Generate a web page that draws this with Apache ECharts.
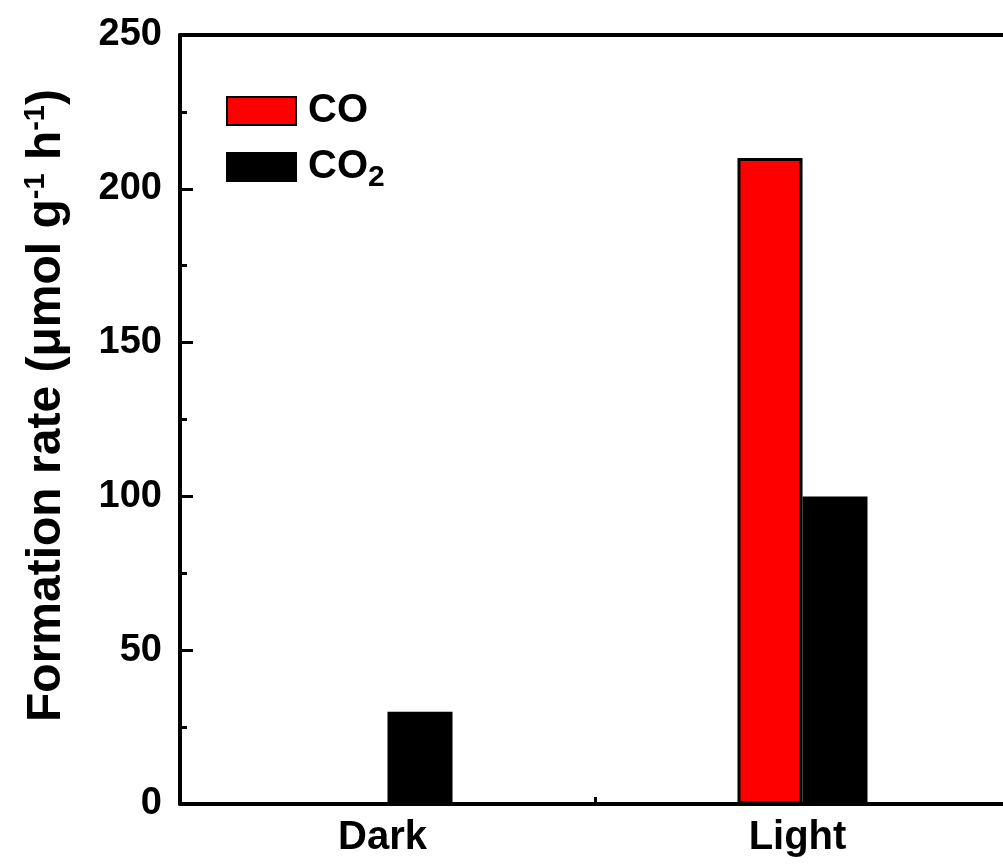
<!DOCTYPE html>
<html>
<head>
<meta charset="utf-8">
<script src="https://cdn.jsdelivr.net/npm/echarts@6/dist/echarts.min.js"></script>
<style>
  html, body { margin: 0; padding: 0; background: #fff; }
  #chart { width: 1003px; height: 864px; }
</style>
</head>
<body>
<div id="chart"></div>
<script>
const categories = ['Dark', 'Light']
const seriesNames = ['CO', 'CO2']
const coRate = [0, 210]
const co2Rate = [30, 100]
const yMin = 0
const yMax = 250
const yStep = 50

const font = 'Arial, "Liberation Sans", sans-serif'

const chart = echarts.init(document.getElementById('chart'))

const option = {
  backgroundColor: '#fff',
  animation: false,
  grid: [
    {
      left: 180,
      width: 830,
      top: 35,
      bottom: 60,
      outerBoundsMode: 'none',
      show: false,
      containLabel: false
    },
    {
      // helper grid, shifted by half a step, only carries the long inward ticks
      left: 180,
      width: 830,
      top: -42,
      height: 923,
      outerBoundsMode: 'none',
      show: false,
      containLabel: false
    }
  ],
  legend: {
    orient: 'vertical',
    left: 226,
    top: 91,
    padding: 0,
    itemWidth: 69,
    itemHeight: 28,
    itemGap: 16,
    icon: 'rect',
    data: seriesNames,
    formatter: name => name === 'CO2' ? '{b|CO}{s|2}' : '{b|CO}',
    textStyle: {
      color: '#000',
      padding: [0, 0, 0, 7],
      rich: {
        b: { fontSize: 40, fontWeight: 'bold', fontFamily: font, color: '#000' },
        s: { fontSize: 30, fontWeight: 'bold', fontFamily: font, color: '#000', padding: [22, 0, 0, 0] }
      }
    }
  },
  xAxis: [
    {
      type: 'category',
      data: categories,
      axisLine: { lineStyle: { color: '#000', width: 4 } },
      axisTick: { show: true, inside: true, length: 7, lineStyle: { color: '#000', width: 3 } },
      axisLabel: {
        color: '#000',
        fontSize: 40,
        fontWeight: 'bold',
        fontFamily: font,
        margin: 14,
        padding: [0, 10, 0, 0]
      }
    },
    {
      // top frame line
      type: 'category',
      data: categories,
      position: 'top',
      axisLine: { show: true, lineStyle: { color: '#000', width: 4 } },
      axisTick: { show: false },
      axisLabel: { show: false }
    },
    {
      gridIndex: 1,
      type: 'value',
      show: false
    }
  ],
  yAxis: [
    {
      type: 'value',
      min: yMin,
      max: yMax,
      interval: yStep,
      name: '{b|Formation rate (μmol g}{sup|-1}{b| h}{sup|-1}{b|)}',
      nameLocation: 'middle',
      nameRotate: 90,
      nameGap: 108,
      nameTextStyle: {
        padding: [0, 0, 0, 28],
        rich: {
          b: { fontSize: 48, fontWeight: 'bold', fontFamily: font, color: '#000' },
          sup: { fontSize: 29, fontWeight: 'bold', fontFamily: font, color: '#000', padding: [0, 0, 22, 0] }
        }
      },
      axisLine: { show: true, lineStyle: { color: '#000', width: 4 } },
      axisTick: { show: true, inside: true, length: 13, lineStyle: { color: '#000', width: 3 } },
      minorTick: { show: true, splitNumber: 2, length: 7, lineStyle: { color: '#000', width: 3 } },
      splitLine: { show: false },
      axisLabel: {
        color: '#000',
        fontSize: 38,
        fontWeight: 'bold',
        fontFamily: font,
        margin: 18
      }
    },
    {
      // major ticks at 0, 50, ... 250 drawn as minor ticks of a half-step shifted axis
      gridIndex: 1,
      type: 'value',
      min: yMin - yStep / 2,
      max: yMax + yStep / 2,
      interval: yStep,
      axisLine: { show: false },
      axisTick: { show: false, inside: true },
      minorTick: { show: true, splitNumber: 2, length: 13, lineStyle: { color: '#000', width: 3 } },
      splitLine: { show: false },
      axisLabel: { show: false }
    }
  ],
  series: [
    {
      name: 'CO',
      type: 'bar',
      data: coRate,
      barWidth: 65,
      barGap: '0%',
      itemStyle: { color: '#ff0000', borderColor: '#000', borderWidth: 3 }
    },
    {
      name: 'CO2',
      type: 'bar',
      data: co2Rate,
      barWidth: 65,
      barGap: '0%',
      itemStyle: { color: '#000', borderColor: '#000', borderWidth: 3 }
    }
  ]
}

chart.setOption(option)
</script>
</body>
</html>
